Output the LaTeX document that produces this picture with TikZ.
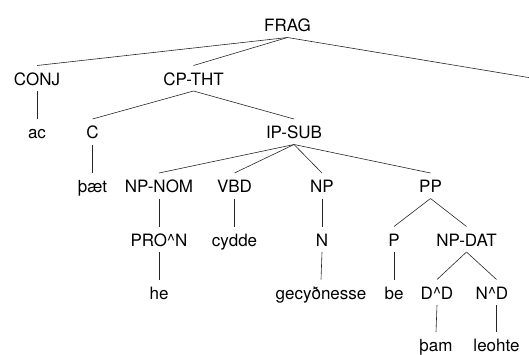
\documentclass[tikz,border=0pt]{standalone}
\usepackage{fontspec}
\setmainfont{TeX Gyre Heros}
\begin{document}
\begin{tikzpicture}[x=1pt,y=-1pt,
  lbl/.style={anchor=base,inner sep=0pt,font=\fontsize{17}{20}\selectfont},
  br/.style={line width=0.6pt,draw=black!85}]
\useasboundingbox (0,0) rectangle (529,354);
% rows (baselines)
\def\ra{31.5}\def\rb{85}\def\rc{138.5}\def\rd{192.5}\def\re{246}\def\rf{299}\def\rg{351.7}
\node[lbl] (frag) at (287.5,\ra) {FRAG};
\node[lbl] (conj) at (37,\rb) {CONJ};
\node[lbl] (cptht) at (193.5,\rb) {CP-THT};
\coordinate (offr) at (529,77.6);
\node[lbl] (ac) at (37,\rc) {ac};
\node[lbl] (c) at (92.5,\rc) {C};
\node[lbl] (ipsub) at (294,\rc) {IP-SUB};
\node[lbl] (thaet) at (92.5,\rd) {þæt};
\node[lbl] (npnom) at (159,\rd) {NP-NOM};
\node[lbl] (vbd) at (234.5,\rd) {VBD};
\node[lbl] (np) at (322,\rd) {NP};
\node[lbl] (pp) at (430.5,\rd) {PP};
\node[lbl] (pron) at (159,\re) {PRO\^{}N};
\node[lbl] (cydde) at (234.5,\re) {cydde};
\node[lbl] (n) at (322,\re) {N};
\node[lbl] (p) at (394,\re) {P};
\node[lbl] (npdat) at (466.5,\re) {NP-DAT};
\node[lbl] (he) at (159,\rf) {he};
\node[lbl] (gec) at (321,\rf) {gecyðnesse};
\node[lbl] (be) at (394,\rf) {be};
\node[lbl] (dd) at (437,\rf) {D\^{}D};
\node[lbl] (nd) at (492,\rf) {N\^{}D};
\node[lbl] (tham) at (436,\rg) {þam};
\node[lbl] (leohte) at (496.5,\rg) {leohte};
\newcommand\tedge[2]{\draw[br] ([yshift=-6pt]#1.base) -- ([yshift=19.5pt]#2.base);}
\tedge{frag}{conj}
\tedge{frag}{cptht}
\draw[br] ([yshift=-6pt]frag.base) -- (offr);
\tedge{conj}{ac}
\tedge{cptht}{c}
\tedge{cptht}{ipsub}
\tedge{c}{thaet}
\tedge{ipsub}{npnom}
\tedge{ipsub}{vbd}
\tedge{ipsub}{np}
\tedge{ipsub}{pp}
\tedge{npnom}{pron}
\tedge{vbd}{cydde}
\tedge{np}{n}
\tedge{pp}{p}
\tedge{pp}{npdat}
\tedge{pron}{he}
\tedge{n}{gec}
\tedge{p}{be}
\tedge{npdat}{dd}
\draw[br] ([yshift=-6pt]npdat.base) -- ([yshift=19.5pt]leohte.base |- nd.base);
\tedge{dd}{tham}
\draw[br] ([yshift=-6pt]leohte.base |- nd.base) -- ([yshift=19.5pt]leohte.base);
\end{tikzpicture}
\end{document}
